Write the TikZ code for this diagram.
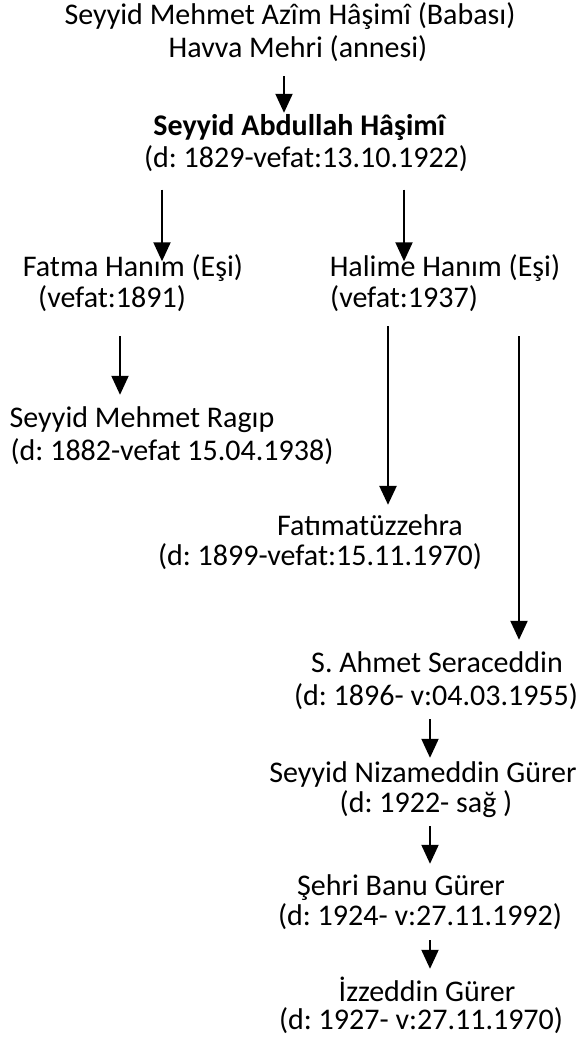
\documentclass[tikz,border=0pt]{standalone}
\usepackage{fontspec}
\setmainfont{Carlito}
\usetikzlibrary{arrows.meta}
\frenchspacing

\tikzset{
  txt/.style={inner sep=0pt, text height=22.5pt, text depth=7.5pt, font=\fontsize{30}{32}\selectfont},
  arr/.style={line width=2pt, -{Triangle[width=17pt,length=19pt]}},
  longarr/.style={arr, line width=2.6pt}
}

\begin{document}
\begin{tikzpicture}[x=1pt,y=1pt,yscale=-1]
\fill[white] (0,0) rectangle (579,1038);
\useasboundingbox (0,0) rectangle (579,1038);

% parents
\node[txt] (baba) at (290,17) {Seyyid Mehmet Azîm Hâşimî (Babası)};
\node[txt] (anne) at (298,50) {Havva Mehri (annesi)};
\node[txt] (abdullah) at (300,128) {\textbf{Seyyid Abdullah Hâşimî}};
\node[txt] (abdullahd) at (306,160) {(d: 1829-vefat:13.10.1922)};

% wives
\node[txt] (fatma) at (133,269) {Fatma Hanım (Eşi)};
\node[txt] (fatmad) at (112,300) {(vefat:1891)};
\node[txt] (halime) at (445,269) {Halime Hanım (Eşi)};
\node[txt] (halimed) at (404,300) {(vefat:1937)};

% children
\node[txt] (ragip) at (142,420) {Seyyid Mehmet Ragıp};
\node[txt] (ragipd) at (172,453) {(d: 1882-vefat 15.04.1938)};
\node[txt] (fatima) at (370,528) {Fatımatüzzehra};
\node[txt] (fatimad) at (320,558) {(d: 1899-vefat:15.11.1970)};
\node[txt] (seraceddin) at (437,665) {S. Ahmet Seraceddin};
\node[txt] (seraceddind) at (436,698) {(d: 1896- v:04.03.1955)};
\node[txt] (nizameddin) at (423,775) {Seyyid Nizameddin Gürer};
\node[txt] (nizameddind) at (426,805) {(d: 1922- sağ )};
\node[txt] (sehri) at (401,888) {Şehri Banu Gürer};
\node[txt] (sehrid) at (420,918) {(d: 1924- v:27.11.1992)};
\node[txt] (izzeddin) at (427,994) {İzzeddin Gürer};
\node[txt] (izzeddind) at (421,1022) {(d: 1927- v:27.11.1970)};

% arrows
\draw[arr, shorten <=11pt] (anne.south -| 284,0) -- (abdullah.north -| 284,0);
\draw[arr, shorten <=14.5pt, shorten >=-7.5pt] (abdullahd.south -| 162,0) -- (fatma.north -| 162,0);
\draw[arr, shorten <=14.5pt, shorten >=-7.5pt] (abdullahd.south -| 404,0) -- (halime.north -| 404,0);
\draw[arr, shorten <=21pt, shorten >=10pt] (fatmad.south -| 120,0) -- (ragip.north -| 120,0);
\draw[longarr, shorten <=11pt, shorten >=8pt] (halimed.south -| 388,0) -- (fatima.north -| 388,0);
\draw[arr, line width=2.2pt, shorten <=21pt, shorten >=10pt] (halimed.south -| 519,0) -- (seraceddin.north -| 519,0);
\draw[arr, shorten <=6pt, shorten >=2pt] (seraceddind.south -| 430,0) -- (nizameddin.north -| 430,0);
\draw[arr, shorten <=6pt, shorten >=9pt] (nizameddind.south -| 430,0) -- (sehri.north -| 430,0);
\draw[arr, shorten <=7pt, shorten >=10pt] (sehrid.south -| 430,0) -- (izzeddin.north -| 430,0);
\end{tikzpicture}
\end{document}
